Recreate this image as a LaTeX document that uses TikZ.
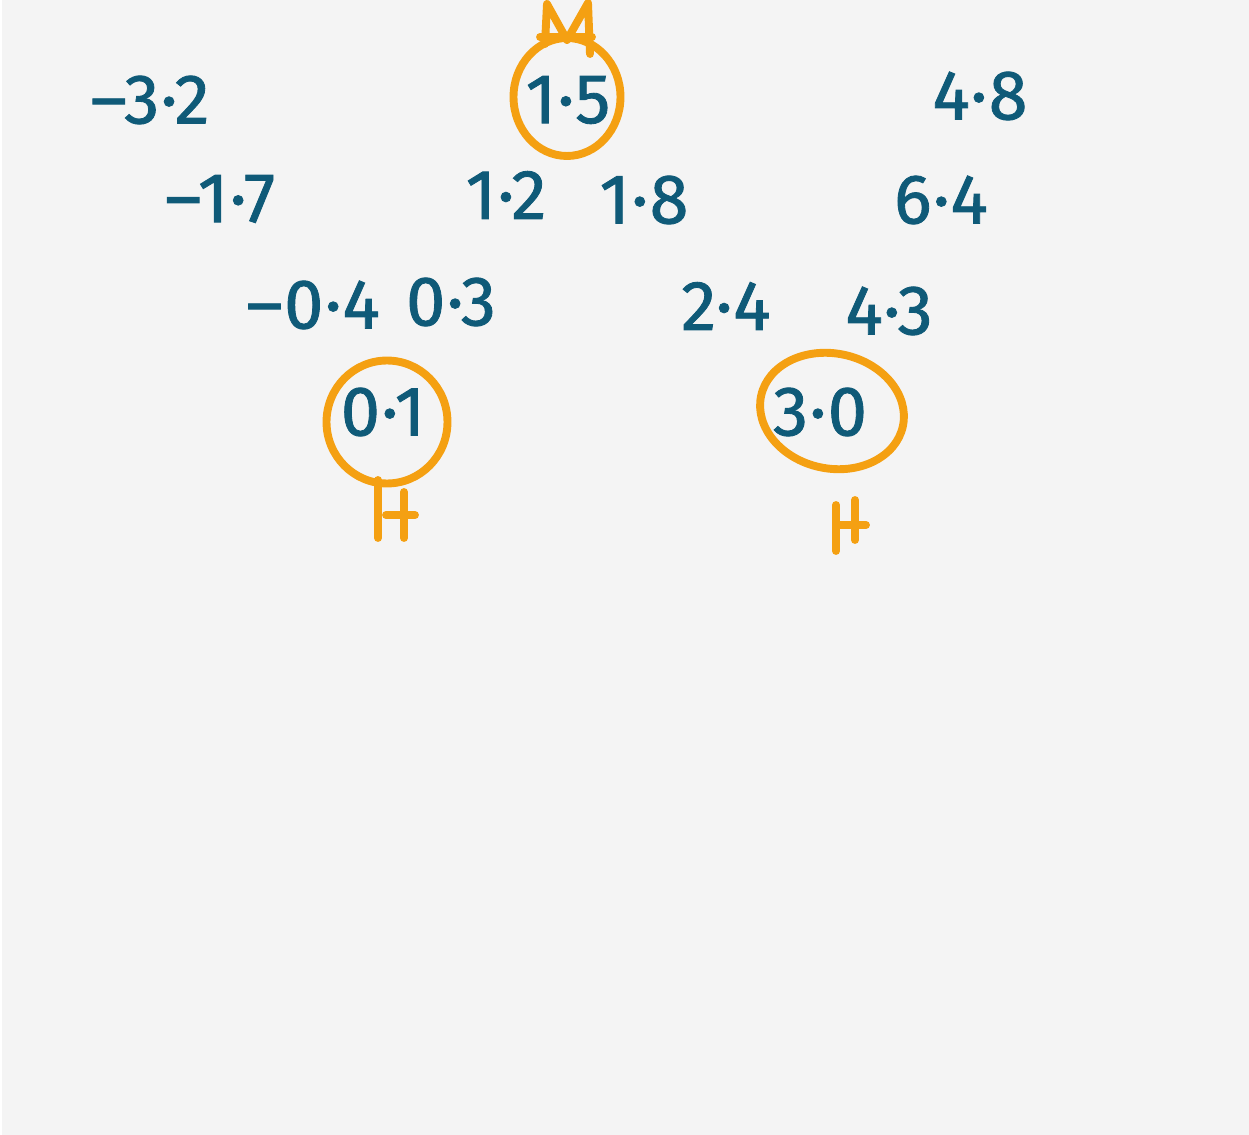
\documentclass[tikz,border=0pt]{standalone}
\usepackage{fontspec}
\setmainfont{Fira Sans}[FakeBold=1.2,LetterSpace=2]
\usetikzlibrary{shapes.geometric}
\definecolor{ink}{HTML}{0F5A78}
\definecolor{hl}{HTML}{F4A012}
\definecolor{bg}{HTML}{F4F4F4}
\begin{document}
\begin{tikzpicture}[x=0.02cm,y=-0.02cm,
  num/.style={text=ink,font=\fontsize{40}{44}\selectfont,inner sep=0pt,anchor=center},
  ring/.style={draw=hl,line width=4.5pt,ellipse,inner sep=0pt},
  pen/.style={draw=hl,line width=4.5pt,line cap=round,line join=round}]
\fill[white] (0,0) rectangle (1249,1135);
\fill[bg] (2,0) rectangle (1249,1135);
\useasboundingbox (0,0) rectangle (1249,1135);
% numbers
\node[num] (a1) at (150,100) {–3·2};
\node[num] (a2) at (568,100) {1·5};
\node[num] (a3) at (980,96) {4·8};
\node[num] (b1) at (220,199) {–1·7};
\node[num] (b2) at (506,195) {1·2};
\node[num] (b3) at (644,200) {1·8};
\node[num] (b4) at (941,200) {6·4};
\node[num] (c1) at (313,305) {–0·4};
\node[num] (c2) at (451,302) {0·3};
\node[num] (c3) at (726,306) {2·4};
\node[num] (c4) at (889,311) {4·3};
\node[num] (d1) at (383,412) {0·1};
\node[num] (d2) at (820,412) {3·0};
% rings
\node[ring,minimum width=2.14cm,minimum height=2.36cm] (r1) at (567,97) {};
\node[ring,minimum width=2.42cm,minimum height=2.46cm] (r2) at (387,422) {};
\node[ring,minimum width=2.9cm,minimum height=2.3cm,rotate=-12] (r3) at (832,411) {};
% M on top
\coordinate (m1) at (545,44);
\coordinate (m2) at (547,4);
\coordinate (m3) at (567,40);
\coordinate (m4) at (588,3);
\coordinate (m5) at (590,54);
\draw[pen] (m1) -- (m2) -- (m3) -- (m4) -- (m5);
\coordinate (mb1) at (540,37);
\coordinate (mb2) at (592,37);
\draw[pen] (mb1) -- (mb2);
% H under 0.1
\coordinate (h1a) at (378,480);
\coordinate (h1b) at (378,538);
\coordinate (h1c) at (404,492);
\coordinate (h1d) at (404,538);
\coordinate (h1e) at (386,515);
\coordinate (h1f) at (415,515);
\draw[pen] (h1a) -- (h1b);
\draw[pen] (h1c) -- (h1d);
\draw[pen] (h1e) -- (h1f);
% H under 3.0
\coordinate (h2a) at (836,505);
\coordinate (h2b) at (836,551);
\coordinate (h2c) at (855,500);
\coordinate (h2d) at (855,540);
\coordinate (h2e) at (836,525);
\coordinate (h2f) at (866,525);
\draw[pen] (h2a) -- (h2b);
\draw[pen] (h2c) -- (h2d);
\draw[pen] (h2e) -- (h2f);
\end{tikzpicture}
\end{document}
